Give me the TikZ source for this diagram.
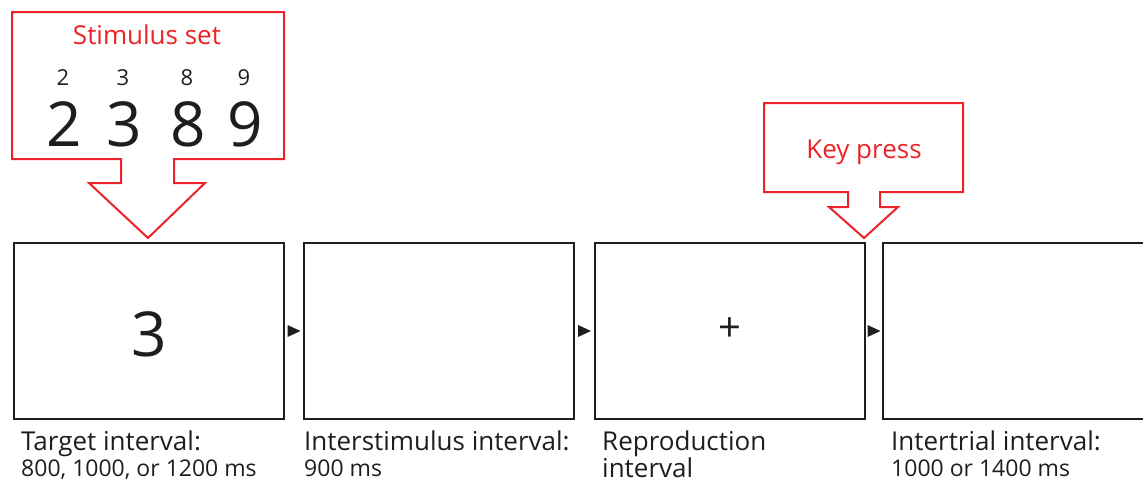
\documentclass[tikz,border=0pt]{standalone}
\usepackage{fontspec}
\setmainfont{Open Sans}
\usetikzlibrary{calc}
\definecolor{cred}{RGB}{235,35,40}
\definecolor{ink}{RGB}{30,30,30}
\begin{document}
\begin{tikzpicture}[x=1pt,y=-1pt,
  frame/.style={draw=ink, line width=2pt, minimum width=270pt, minimum height=176pt, inner sep=0pt, anchor=north west},
  wide/.style={frame, minimum width=300pt},
  callout/.style={draw=cred, line width=2pt, line join=miter},
  lbl/.style={anchor=base west, inner sep=0pt, text=ink, font=\fontsize{26}{30}\selectfont},
  sub/.style={anchor=base west, inner sep=0pt, text=ink, font=\fontsize{23}{26}\selectfont},
  red/.style={anchor=base, inner sep=0pt, text=cred, font=\fontsize{26}{30}\selectfont},
  small/.style={anchor=base, inner sep=0pt, text=ink, font=\fontsize{22}{26}\selectfont},
  big/.style={anchor=base, inner sep=0pt, text=ink, font=\fontsize{62}{70}\selectfont},
  tip/.style={fill=ink}]
\clip (0,0) rectangle (1143,483);
% frames
\node[frame] (b1) at (13,242) {};
\node[frame] (b2) at (303,242) {};
\node[frame] (b3) at (594,242) {};
\node[wide] (b4) at (882,242) {};
% arrowheads between frames
\foreach \a/\b in {b1/b2,b2/b3,b3/b4}{
  \fill[tip] ($(\a.east)!0.5!(\b.west)+(-6.5,-6)$) -- ++(13,6) -- ++(-13,6) -- cycle;
}
% frame contents
\node[big] (t3) at (149,356) {3};
\node[anchor=center, inner sep=0pt, text=ink, font=\fontsize{40}{40}\selectfont] (plus) at (730,330) {+};
% callouts
\draw[callout] (12,12) -- (284,12) -- (284,159) -- (174,159) -- (174,183) -- (205,183) -- (148,238) -- (89,183) -- (121,183) -- (121,159) -- (12,159) -- cycle;
\draw[callout] (764,103) -- (963,103) -- (963,192) -- (880,192) -- (880,207) -- (898,207) -- (864,238) -- (829,207) -- (848,207) -- (848,192) -- (764,192) -- cycle;
\node[red] (ss) at (147,44) {Stimulus set};
\node[red] (kp) at (864,158) {Key press};
\foreach \x/\d in {63/2,123/3,187/8,244/9}{
  \node[small] (s\d) at (\x,85) {\d};
  \node[big] (g\d) at (\x+1,146) {\d};
}
% labels
\node[lbl] (l1) at (21,450) {Target interval:};
\node[sub] (m1) at (21,476) {800, 1000, or 1200 ms};
\node[lbl] (l2) at (304,450) {Interstimulus interval:};
\node[sub] (m2) at (304,476) {900 ms};
\node[lbl] (l3) at (602,450) {Reproduction};
\node[lbl] (m3) at (602,477) {interval};
\node[lbl] (l4) at (891,450) {Intertrial interval:};
\node[sub] (m4) at (891,476) {1000 or 1400 ms};
\end{tikzpicture}
\end{document}
